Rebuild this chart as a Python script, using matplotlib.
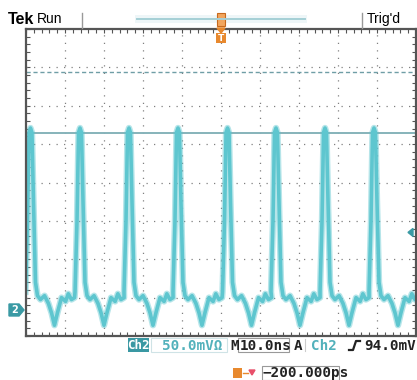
import matplotlib
import numpy as np

matplotlib.use("Agg")
import matplotlib.pyplot as plt
from matplotlib.patches import Rectangle, Polygon

# screen in divisions: x 0..10 (10 ns/div), y -4..4 (50 mV/div)
peak_div = [0.115, 1.385, 2.641, 3.897, 5.167, 6.410, 7.667, 8.923]
# one period of the Ch2 trace, offsets from each peak (div) and level (div)
shape_dt = [-0.128, -0.077, -0.038, 0.0, 0.038, 0.077, 0.128, 0.18, 0.256,
            0.36, 0.46, 0.54, 0.615, 0.69, 0.795, 0.90, 0.97, 1.05, 1.13]
shape_v = [-2.85, -1.0, 1.30, 1.42, 1.30, -0.5, -2.6, -2.95, -3.05,
           -2.95, -3.15, -3.4, -3.72, -3.4, -3.0, -3.1, -2.9, -3.05, -3.0]
clip_level = 1.29
ref_level = 2.88
trig_level = -1.3
ground_level = -3.32

TRACE = "#5ec6cf"
ORANGE = "#e8892e"
GRID = "#808080"

fig = plt.figure(figsize=(4.17, 3.8), dpi=100)
W, H = 417, 380
ax = fig.add_axes([26 / W, 1 - 336 / H, 390 / W, 307 / H])
ax.set_xlim(0, 10)
ax.set_ylim(-4, 4)
for side in ax.spines.values():
    side.set_color("#555555")
    side.set_linewidth(1.6)
ax.set_xticks(np.arange(0, 10.01, 0.2))
ax.set_yticks(np.arange(-4, 4.01, 0.2))
ax.tick_params(direction="in", length=3, width=0.8, color="#555555",
               top=True, right=True, labelbottom=False, labelleft=False)
for gx in range(1, 10):
    ax.axvline(gx, color=GRID, lw=0.9, ls=(0, (1, 5)))
for gy in range(-3, 4):
    ax.axhline(gy, color=GRID, lw=0.9, ls=(0, (1, 5)))

ax.axhline(clip_level, color="#86b3ba", lw=1.4)
ax.axhline(ref_level, color="#6f9ea6", lw=1.0, ls=(0, (3, 2)))

t, v = [], []
for p in peak_div:
    t.extend(p + d for d in shape_dt)
    v.extend(shape_v)
ax.plot(t, v, color=TRACE, lw=4.6, alpha=0.45, solid_joinstyle="round")
ax.plot(t, v, color=TRACE, lw=2.6, solid_joinstyle="round")

# overlay in pixel coordinates for the scope annotations
ov = fig.add_axes([0, 0, 1, 1], facecolor="none")
ov.set_xlim(0, W)
ov.set_ylim(H, 0)
ov.axis("off")

ov.text(8, 19, "Tek", fontsize=11.5, fontweight="bold", va="center", family="Liberation Sans")
ov.text(37, 19, "Run", fontsize=10, va="center", family="Liberation Sans")
ov.plot([82, 82], [13, 28], color="#999999", lw=1)
ov.plot([362, 362], [13, 28], color="#999999", lw=1)
ov.text(367, 19, "Trig'd", fontsize=10, va="center", family="Liberation Sans")
ov.add_patch(Rectangle((135, 15), 172, 8, color="#eef6f8", lw=0))
ov.plot([137, 305], [19, 19], color="#a5cfd6", lw=1.4)
ov.add_patch(Rectangle((217, 13), 8, 13, facecolor="#f2a65e", edgecolor="#c7691d", lw=0.8))
ov.add_patch(Polygon([[217, 28], [225, 28], [221, 33]], color=ORANGE))
ov.add_patch(Rectangle((216, 33), 10, 10, facecolor=ORANGE, edgecolor="none"))
ov.text(221, 38.5, "T", fontsize=6.5, color="white", ha="center", va="center", fontweight="bold")

# channel ground marker and trigger level arrow
gy_px = 182.5 - ground_level * 38.4
ov.add_patch(Polygon([[9, gy_px - 6], [19, gy_px - 6], [24, gy_px], [19, gy_px + 6], [9, gy_px + 6]],
                     color="#3a9aa4"))
ov.text(15, gy_px + 0.5, "2", fontsize=7, color="white", ha="center", va="center", fontweight="bold")
ty_px = 182.5 - trig_level * 38.4
ov.add_patch(Polygon([[408, ty_px], [413, ty_px - 4], [413, ty_px + 4]], color="#3a9aa4"))

# status line
mono = "DejaVu Sans Mono"
fs = 10.3
ov.add_patch(Rectangle((128, 338), 21, 14, color="#3a98a3", lw=0))
ov.text(138.5, 345.5, "Ch2", fontsize=9, color="white", ha="center", va="center", family=mono, fontweight="bold")
ov.add_patch(Rectangle((151, 338), 76, 14, facecolor="white", edgecolor="#cfe3e6", lw=0.8))
ov.text(162, 345.5, "50.0mVΩ", fontsize=fs, color="#52b1bb", va="center", family=mono, fontweight="bold")
ov.text(230, 345.5, "M", fontsize=fs, color="#222222", va="center", family=mono, fontweight="bold")
ov.add_patch(Rectangle((238, 338), 51, 14, facecolor="white", edgecolor="#999999", lw=0.8))
ov.text(240, 345.5, "10.0ns", fontsize=fs, color="#222222", va="center", family=mono, fontweight="bold")
ov.text(294, 345.5, "A", fontsize=fs, color="#222222", va="center", family=mono, fontweight="bold")
ov.plot([305, 305], [339, 351], color="#cccccc", lw=0.8)
ov.text(311, 345.5, "Ch2", fontsize=fs, color="#52b1bb", va="center", family=mono, fontweight="bold")
ov.plot([349, 353, 356, 360], [350, 350, 341, 341], color="#222222", lw=1.6)
ov.text(364, 345.5, "94.0mV", fontsize=fs, color="#222222", va="center", family=mono, fontweight="bold")

# trigger position readout
ov.add_patch(Rectangle((233, 368), 9, 10, color=ORANGE, lw=0))
ov.plot([243, 248], [373, 373], color=ORANGE, lw=1)
ov.add_patch(Polygon([[249, 370], [255, 370], [252, 375]], color="#e8506a"))
ov.add_patch(Rectangle((262, 366), 77, 14, facecolor="white", edgecolor="#999999", lw=0.8))
ov.text(263, 373.5, "\u2212200.000ps", fontsize=fs, color="#222222", va="center", family=mono, fontweight="bold")

fig.savefig("out.png", dpi=100)
